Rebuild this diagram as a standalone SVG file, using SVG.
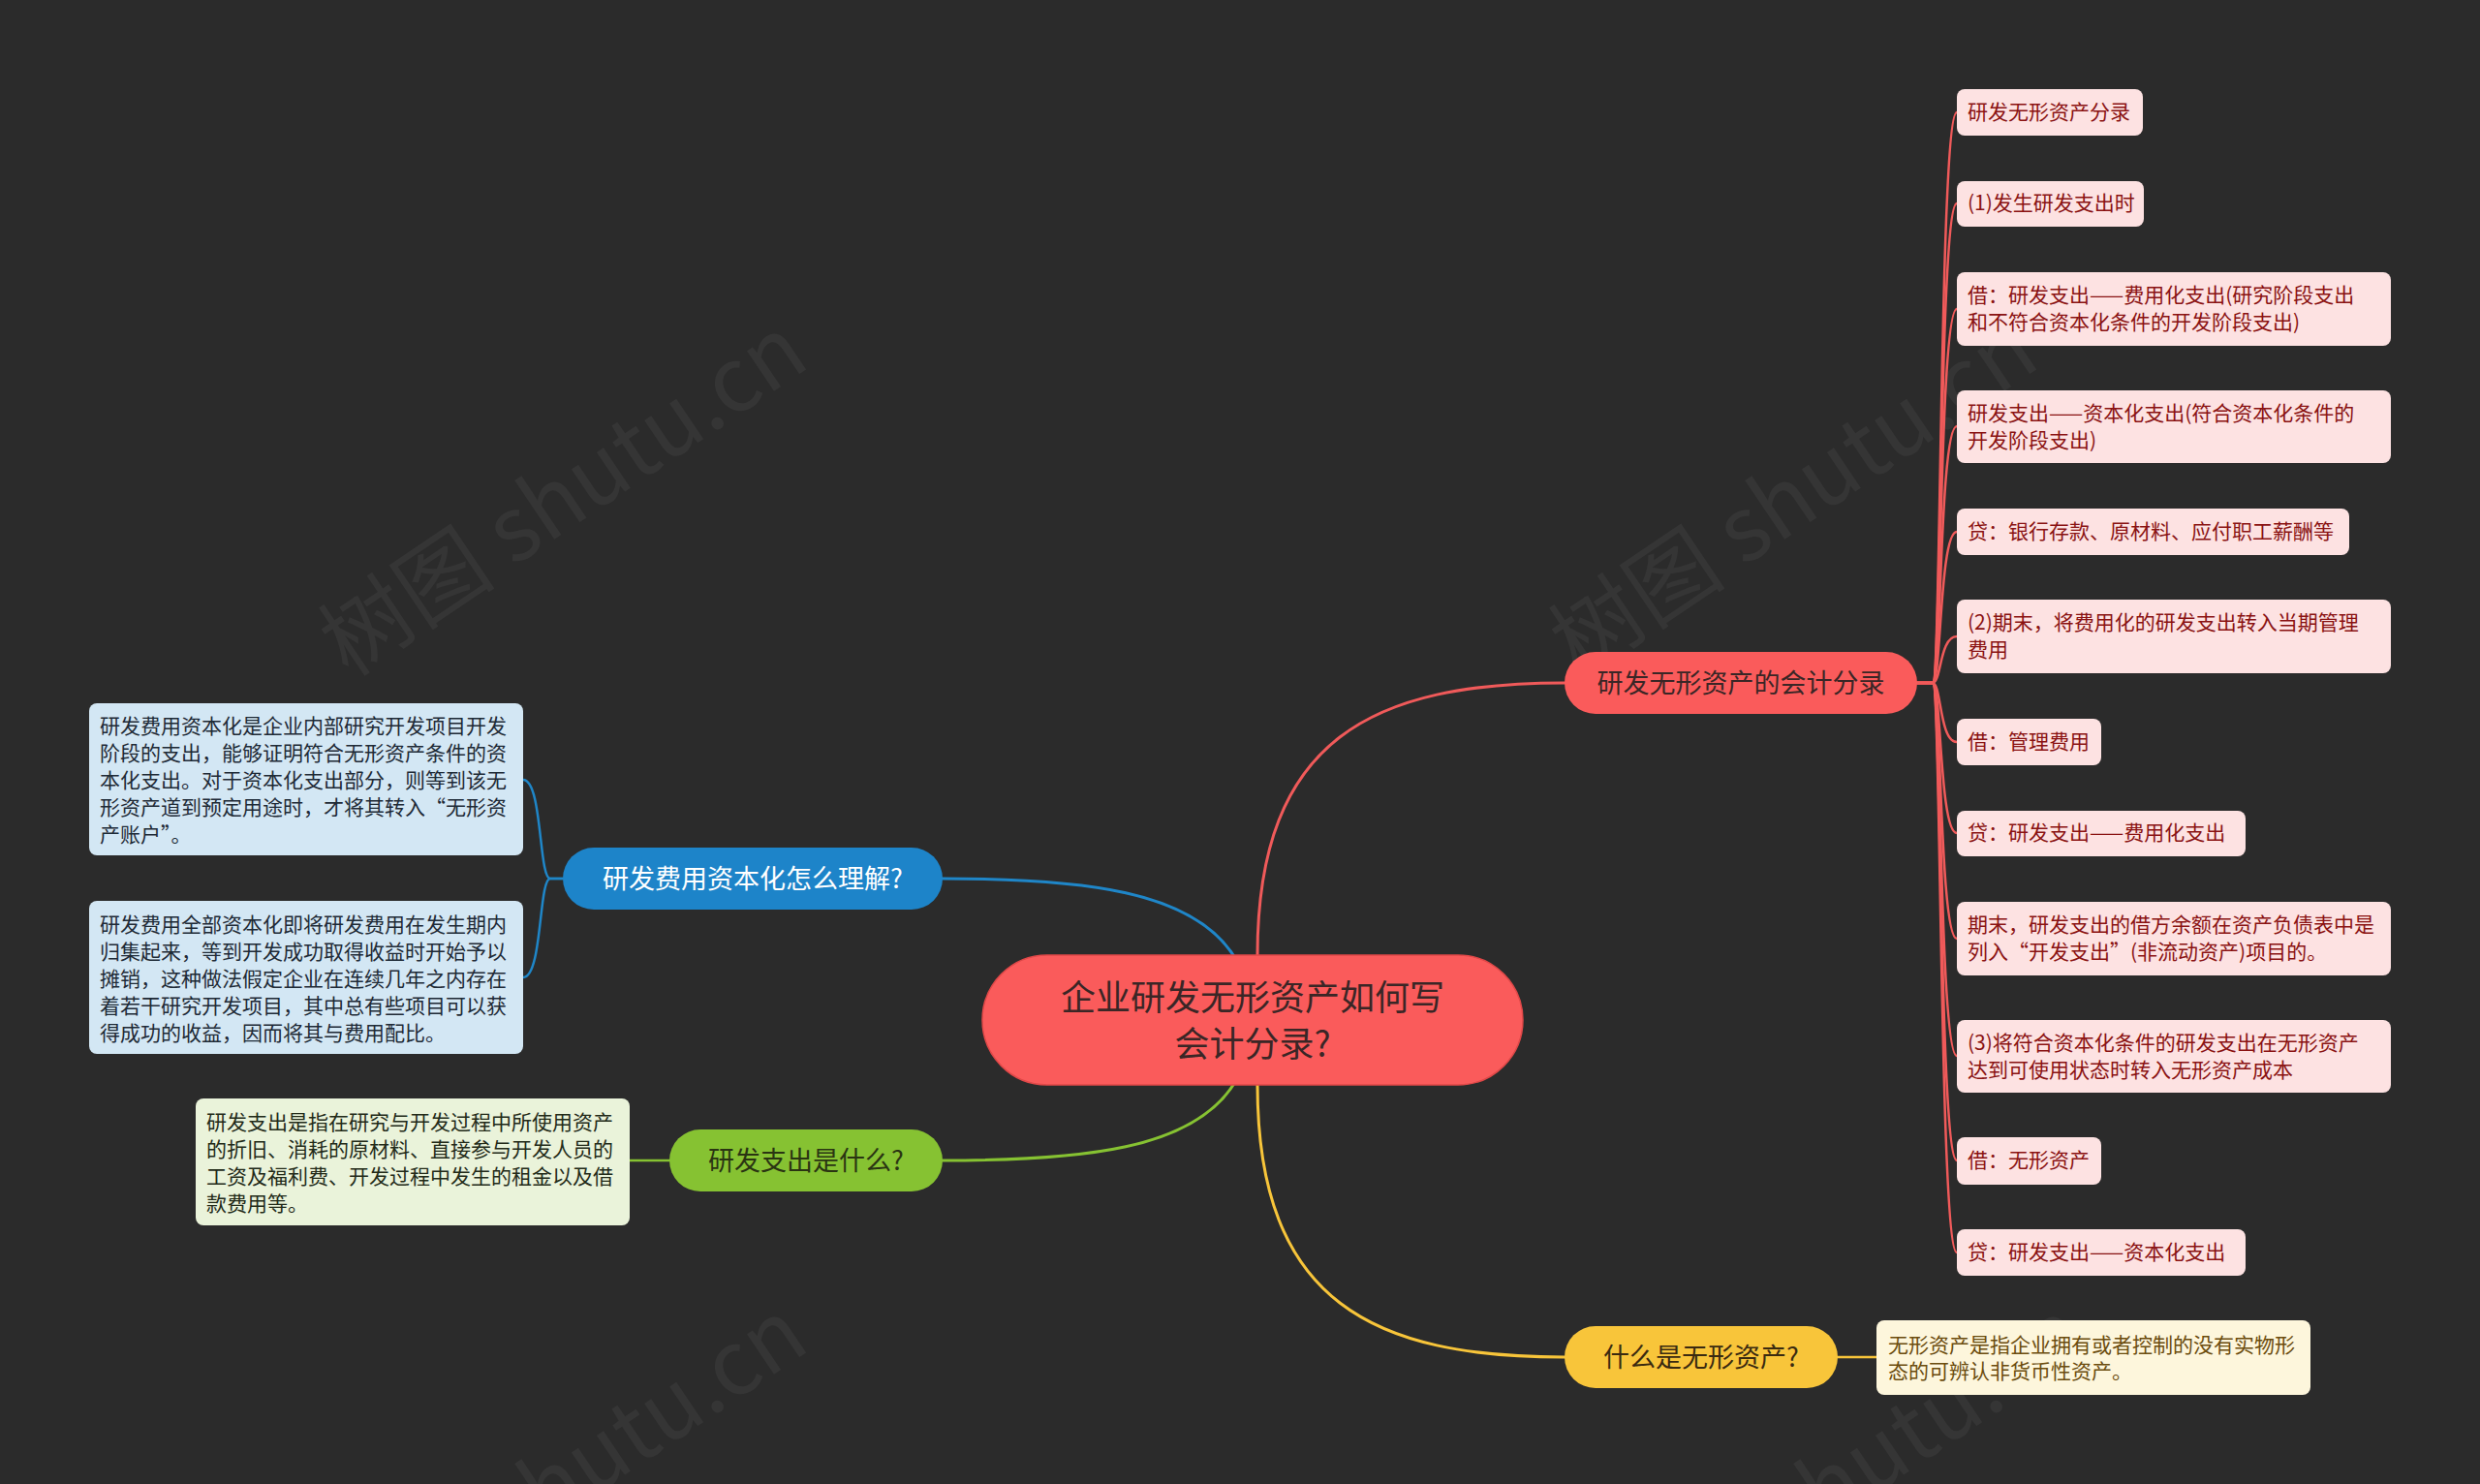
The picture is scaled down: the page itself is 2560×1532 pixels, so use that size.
<svg xmlns="http://www.w3.org/2000/svg" width="2560" height="1532" viewBox="0 0 2560 1532">
<style>
text{font-family:"Noto Sans CJK SC","Noto Sans",sans-serif;dominant-baseline:central}
.wm{font-size:92px;fill:#9a9a9a;opacity:0.09;dominant-baseline:alphabetic}
.ln{fill:none;stroke-width:3;stroke-linecap:round}
.lf{fill:none;stroke-width:2.5;stroke-linecap:round}
.red{stroke:#f05a5a}.blue{stroke:#1f86c8}.green{stroke:#86c232}.yellow{stroke:#f8c53a}
.root rect{fill:#fa5b5b;stroke:#e04848;stroke-width:1.5}
.root text{font-size:36px;fill:#3a2626;text-anchor:middle}
.br text{font-size:27px;text-anchor:middle}
.rl rect{fill:#fde2e2}
.rl text{font-size:21px;fill:#8a1212}
.bl rect{fill:#d3e7f4}
.bl text{font-size:21px;fill:#1e2a36}
.gl rect{fill:#eaf3da}
.gl text{font-size:21px;fill:#222a18}
.yl rect{fill:#fdf6dc}
.yl text{font-size:21px;fill:#6b4c0e}
.root text,.br text,.rl text,.bl text,.gl text,.yl text{transform:translateY(-2px)}
</style>
<rect width="2560" height="1532" fill="#2b2b2b"/>

<g id="watermarks">
<text class="wm" transform="translate(360,700) rotate(-34)">树图 shutu.cn</text>
<text class="wm" transform="translate(1630,700) rotate(-34)">树图 shutu.cn</text>
<text class="wm" transform="translate(360,1715) rotate(-34)">树图 shutu.cn</text>
<text class="wm" transform="translate(1680,1715) rotate(-34)">树图 shutu.cn</text>
</g>

<g id="connectors">
<path class="ln red" d="M1298,986 C1298,760 1420,705 1615,705"/>
<path class="ln yellow" d="M1298,1120 C1298,1346 1420,1401 1615,1401"/>
<path class="ln blue" d="M1273,986 C1230,920 1120,907 973,907"/>
<path class="ln green" d="M1273,1120 C1230,1186 1120,1198 973,1198"/>
<path class="lf red" d="M1979,705 L1995,705 C2004,705 2002,116 2020,116"/>
<path class="lf red" d="M1979,705 L1995,705 C2004,705 2002,210 2020,210"/>
<path class="lf red" d="M1979,705 L1995,705 C2004,705 2002,319 2020,319"/>
<path class="lf red" d="M1979,705 L1995,705 C2004,705 2002,440 2020,440"/>
<path class="lf red" d="M1979,705 L1995,705 C2004,705 2002,549 2020,549"/>
<path class="lf red" d="M1979,705 L1995,705 C2004,705 2002,657 2020,657"/>
<path class="lf red" d="M1979,705 L1995,705 C2004,705 2002,766 2020,766"/>
<path class="lf red" d="M1979,705 L1995,705 C2004,705 2002,860 2020,860"/>
<path class="lf red" d="M1979,705 L1995,705 C2004,705 2002,969 2020,969"/>
<path class="lf red" d="M1979,705 L1995,705 C2004,705 2002,1090 2020,1090"/>
<path class="lf red" d="M1979,705 L1995,705 C2004,705 2002,1198 2020,1198"/>
<path class="lf red" d="M1979,705 L1995,705 C2004,705 2002,1293 2020,1293"/>
<path class="lf blue" d="M581,907 L568,907 C556,907 560,805 540,805"/>
<path class="lf blue" d="M581,907 L568,907 C556,907 560,1009 540,1009"/>
<path class="lf green" d="M691,1198 L650,1198"/>
<path class="lf yellow" d="M1897,1401 L1937,1401"/>
</g>

<g id="root" class="root">
<rect x="1014" y="986" width="558" height="134" rx="67"/>
<text x="1293" y="1029">企业研发无形资产如何写</text>
<text x="1293" y="1077">会计分录?</text>
</g>

<g id="branch-red" class="br">
<rect x="1615" y="673" width="364" height="64" rx="32" fill="#fa5b5b"/>
<text x="1797" y="705" fill="#3a2626">研发无形资产的会计分录</text>
</g>
<g id="branch-blue" class="br">
<rect x="581" y="875" width="392" height="64" rx="32" fill="#1d84c9"/>
<text x="777" y="907" fill="#ffffff">研发费用资本化怎么理解?</text>
</g>
<g id="branch-green" class="br">
<rect x="691" y="1166" width="282" height="64" rx="32" fill="#86c232"/>
<text x="832" y="1198" fill="#2a3412">研发支出是什么?</text>
</g>
<g id="branch-yellow" class="br">
<rect x="1615" y="1369" width="282" height="64" rx="32" fill="#f8c53a"/>
<text x="1756" y="1401" fill="#3a2a10">什么是无形资产?</text>
</g>

<g id="leaf-r1" class="rl"><rect x="2020" y="92" width="192" height="48" rx="8"/><text x="2031" y="116">研发无形资产分录</text></g>
<g id="leaf-r2" class="rl"><rect x="2020" y="187" width="193" height="47" rx="8"/><text x="2031" y="210">(1)发生研发支出时</text></g>
<g id="leaf-r3" class="rl"><rect x="2020" y="281" width="448" height="76" rx="8"/><text x="2031" y="305">借：研发支出——费用化支出(研究阶段支出</text><text x="2031" y="333">和不符合资本化条件的开发阶段支出)</text></g>
<g id="leaf-r4" class="rl"><rect x="2020" y="403" width="448" height="75" rx="8"/><text x="2031" y="427">研发支出——资本化支出(符合资本化条件的</text><text x="2031" y="455">开发阶段支出)</text></g>
<g id="leaf-r5" class="rl"><rect x="2020" y="525" width="405" height="48" rx="8"/><text x="2031" y="549">贷：银行存款、原材料、应付职工薪酬等</text></g>
<g id="leaf-r6" class="rl"><rect x="2020" y="619" width="448" height="76" rx="8"/><text x="2031" y="643">(2)期末，将费用化的研发支出转入当期管理</text><text x="2031" y="671">费用</text></g>
<g id="leaf-r7" class="rl"><rect x="2020" y="742" width="149" height="48" rx="8"/><text x="2031" y="766">借：管理费用</text></g>
<g id="leaf-r8" class="rl"><rect x="2020" y="837" width="298" height="47" rx="8"/><text x="2031" y="860">贷：研发支出——费用化支出</text></g>
<g id="leaf-r9" class="rl"><rect x="2020" y="931" width="448" height="76" rx="8"/><text x="2031" y="955">期末，研发支出的借方余额在资产负债表中是</text><text x="2031" y="983">列入“开发支出”(非流动资产)项目的。</text></g>
<g id="leaf-r10" class="rl"><rect x="2020" y="1053" width="448" height="75" rx="8"/><text x="2031" y="1077">(3)将符合资本化条件的研发支出在无形资产</text><text x="2031" y="1105">达到可使用状态时转入无形资产成本</text></g>
<g id="leaf-r11" class="rl"><rect x="2020" y="1174" width="149" height="49" rx="8"/><text x="2031" y="1198">借：无形资产</text></g>
<g id="leaf-r12" class="rl"><rect x="2020" y="1269" width="298" height="48" rx="8"/><text x="2031" y="1293">贷：研发支出——资本化支出</text></g>

<g id="leaf-b1" class="bl"><rect x="92" y="726" width="448" height="157" rx="8"/>
<text x="103" y="750">研发费用资本化是企业内部研究开发项目开发</text>
<text x="103" y="778">阶段的支出，能够证明符合无形资产条件的资</text>
<text x="103" y="806">本化支出。对于资本化支出部分，则等到该无</text>
<text x="103" y="834">形资产道到预定用途时，才将其转入“无形资</text>
<text x="103" y="862">产账户”。</text></g>
<g id="leaf-b2" class="bl"><rect x="92" y="930" width="448" height="158" rx="8"/>
<text x="103" y="955">研发费用全部资本化即将研发费用在发生期内</text>
<text x="103" y="983">归集起来，等到开发成功取得收益时开始予以</text>
<text x="103" y="1011">摊销，这种做法假定企业在连续几年之内存在</text>
<text x="103" y="1039">着若干研究开发项目，其中总有些项目可以获</text>
<text x="103" y="1067">得成功的收益，因而将其与费用配比。</text></g>
<g id="leaf-g1" class="gl"><rect x="202" y="1134" width="448" height="131" rx="8"/>
<text x="213" y="1159">研发支出是指在研究与开发过程中所使用资产</text>
<text x="213" y="1187">的折旧、消耗的原材料、直接参与开发人员的</text>
<text x="213" y="1215">工资及福利费、开发过程中发生的租金以及借</text>
<text x="213" y="1243">款费用等。</text></g>
<g id="leaf-y1" class="yl"><rect x="1937" y="1363" width="448" height="77" rx="8"/>
<text x="1949" y="1389">无形资产是指企业拥有或者控制的没有实物形</text>
<text x="1949" y="1416">态的可辨认非货币性资产。</text></g>
</svg>
